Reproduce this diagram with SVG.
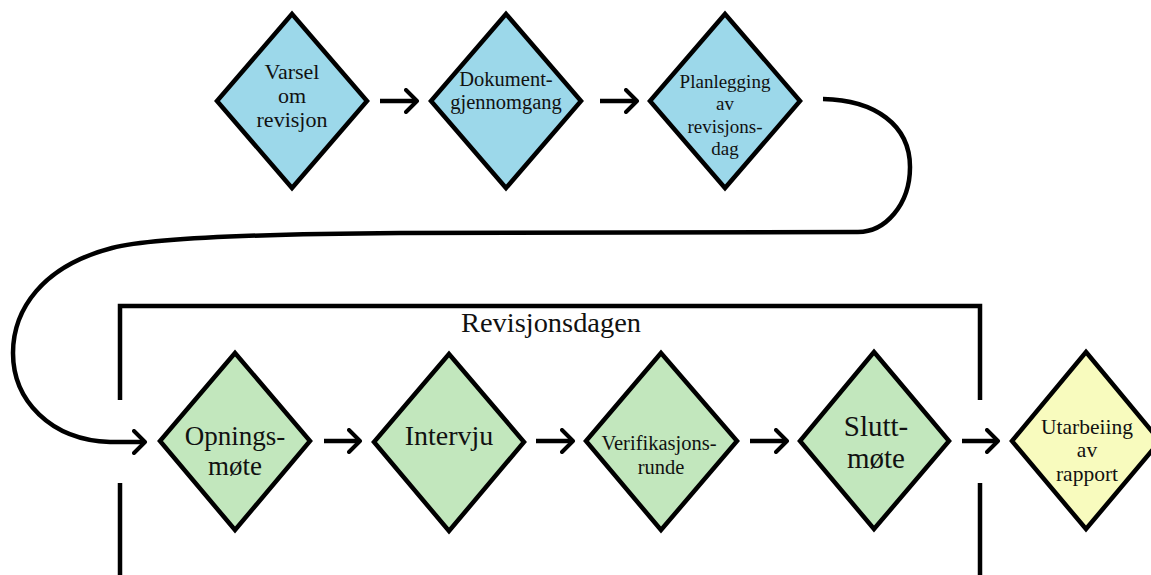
<svg xmlns="http://www.w3.org/2000/svg" width="1151" height="575" viewBox="0 0 1151 575">
<style>
.d{stroke:#000;stroke-width:4.5;stroke-linejoin:miter}
.blue{fill:#9cd8ea}
.green{fill:#c2e7bd}
.yellow{fill:#f8fbbe}
.t{font-family:"Liberation Serif","Times New Roman",serif;fill:#111;text-anchor:middle}
.c{fill:none;stroke:#000;stroke-width:4.5}
.br{fill:none;stroke:#000;stroke-width:4.5}
</style>
<defs>
<marker id="ah" viewBox="0 0 16 26" refX="13" refY="13" markerWidth="16" markerHeight="26" markerUnits="userSpaceOnUse" orient="auto">
<path d="M2,2 L13,13 L2,24" fill="none" stroke="#000" stroke-width="4" stroke-linecap="round" stroke-linejoin="round"/>
</marker>
</defs>
<rect width="1151" height="575" fill="#fff"/>
<g id="bracket">
<path class="br" d="M120,400 L120,306 L980,306 L980,400"/>
<path class="br" d="M120,483 L120,575 M980,483 L980,575"/>
<text class="t" x="551" y="332" font-size="27" textLength="180" lengthAdjust="spacingAndGlyphs">Revisjonsdagen</text>
</g>
<g id="connectors">
<path class="c" d="M380,101 L417,101" marker-end="url(#ah)"/>
<path class="c" d="M600,101 L637,101" marker-end="url(#ah)"/>
<path class="c" d="M823,99 C875,100 910,125 910,167 C910,205 885,232 858,232 L400,233 C250,234 150,238 112,248 C42,266 13,310 13,353 C13,400 50,440 110,442 L145,442" marker-end="url(#ah)"/>
<path class="c" d="M324,441 L360,441" marker-end="url(#ah)"/>
<path class="c" d="M536,441 L573,441" marker-end="url(#ah)"/>
<path class="c" d="M750,441 L787,441" marker-end="url(#ah)"/>
<path class="c" d="M962,441 L998,441" marker-end="url(#ah)"/>
</g>
<g id="n1">
<polygon class="d blue" points="292,14 367,101 292,188 217,101"/>
<text class="t" font-size="22"><tspan x="292" y="79">Varsel</tspan><tspan x="292" y="103">om</tspan><tspan x="292" y="127">revisjon</tspan></text>
</g>
<g id="n2">
<polygon class="d blue" points="506,14 581,101 506,188 431,101"/>
<text class="t" font-size="20.5"><tspan x="506" y="86">Dokument-</tspan><tspan x="506" y="109">gjennomgang</tspan></text>
</g>
<g id="n3">
<polygon class="d blue" points="725,14 800,101 725,188 650,101"/>
<text class="t" font-size="19"><tspan x="725" y="88">Planlegging</tspan><tspan x="725" y="110">av</tspan><tspan x="725" y="133">revisjons-</tspan><tspan x="725" y="155">dag</tspan></text>
</g>
<g id="n4">
<polygon class="d green" points="235,353 310,441 235,530 160,441"/>
<text class="t" font-size="27"><tspan x="235" y="445">Opnings-</tspan><tspan x="235" y="475">møte</tspan></text>
</g>
<g id="n5">
<polygon class="d green" points="449,354 524,442 449,531 374,442"/>
<text class="t" font-size="28"><tspan x="449" y="445">Intervju</tspan></text>
</g>
<g id="n6">
<polygon class="d green" points="661,353 737,441 661,530 586,441"/>
<text class="t" font-size="20.5"><tspan x="659" y="450">Verifikasjons-</tspan><tspan x="661" y="474">runde</tspan></text>
</g>
<g id="n7">
<polygon class="d green" points="874,352 949,441 874,529 800,441"/>
<text class="t" font-size="29"><tspan x="876" y="436">Slutt-</tspan><tspan x="876" y="468">møte</tspan></text>
</g>
<g id="n8">
<polygon class="d yellow" points="1086,352 1160,441 1086,529 1012,441"/>
<text class="t" font-size="21.5"><tspan x="1087" y="434">Utarbeiing</tspan><tspan x="1087" y="457">av</tspan><tspan x="1087" y="481">rapport</tspan></text>
</g>
</svg>
